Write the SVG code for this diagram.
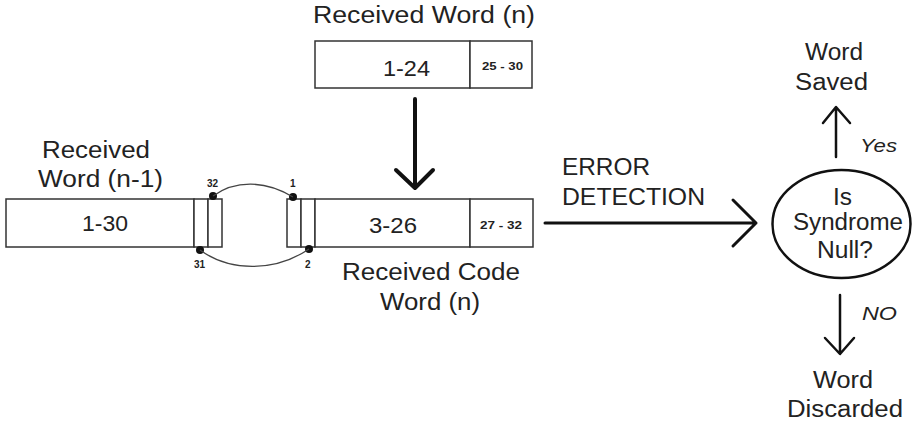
<svg xmlns="http://www.w3.org/2000/svg" width="912" height="433" viewBox="0 0 912 433">
<style>
.box{fill:#fff;stroke:#333;stroke-width:1.5}
.lbl{font-family:"Liberation Sans",Arial,sans-serif;fill:#222}
.big{font-size:23px}
.num{font-size:22px}
.tiny{font-size:10px;font-weight:bold}
.it{font-style:italic;font-size:18px}
.arr{fill:none;stroke:#111;stroke-linecap:round;stroke-linejoin:round}
.wire{fill:none;stroke:#444;stroke-width:1.3}
.dot{fill:#111}
</style>
<rect width="912" height="433" fill="#fff"/>

<g id="received-word-n">
  <text class="lbl big" x="313" y="23" font-size="24" textLength="222" lengthAdjust="spacingAndGlyphs">Received Word (n)</text>
  <rect class="box" x="315" y="41" width="155" height="47"/>
  <rect class="box" x="470" y="41" width="62" height="47"/>
  <text class="lbl num" x="383" y="76" textLength="47" lengthAdjust="spacingAndGlyphs">1-24</text>
  <text class="lbl tiny" x="482" y="70" font-size="9" textLength="41" lengthAdjust="spacingAndGlyphs">25 - 30</text>
</g>

<g id="received-word-n-1">
  <text class="lbl big" x="42" y="158" textLength="108" lengthAdjust="spacingAndGlyphs">Received</text>
  <text class="lbl big" x="38" y="187" textLength="125" lengthAdjust="spacingAndGlyphs">Word (n-1)</text>
  <rect class="box" x="6" y="199" width="188" height="48"/>
  <rect class="box" x="194" y="199" width="14" height="48"/>
  <rect class="box" x="208" y="199" width="14" height="48"/>
  <text class="lbl num" x="82" y="231" textLength="46" lengthAdjust="spacingAndGlyphs">1-30</text>
  <circle class="dot" cx="213" cy="196" r="4"/>
  <circle class="dot" cx="200" cy="250" r="4"/>
  <text class="lbl tiny" x="207" y="187">32</text>
  <text class="lbl tiny" x="194" y="268">31</text>
</g>

<g id="received-code-word-n">
  <rect class="box" x="287" y="199" width="14" height="48"/>
  <rect class="box" x="301" y="199" width="14" height="48"/>
  <rect class="box" x="315" y="199" width="155" height="48"/>
  <rect class="box" x="470" y="199" width="63" height="48"/>
  <text class="lbl num" x="369" y="233" textLength="48" lengthAdjust="spacingAndGlyphs">3-26</text>
  <text class="lbl tiny" x="480" y="229" textLength="42" lengthAdjust="spacingAndGlyphs">27 - 32</text>
  <circle class="dot" cx="293" cy="197" r="4"/>
  <circle class="dot" cx="309" cy="249" r="4"/>
  <text class="lbl tiny" x="290" y="187">1</text>
  <text class="lbl tiny" x="305" y="268">2</text>
  <text class="lbl big" x="342" y="280" textLength="178" lengthAdjust="spacingAndGlyphs">Received Code</text>
  <text class="lbl big" x="380" y="310" textLength="100" lengthAdjust="spacingAndGlyphs">Word (n)</text>
</g>

<g id="syndrome-check">
  <ellipse cx="841.5" cy="224" rx="69" ry="54" fill="#fff" stroke="#111" stroke-width="2.5"/>
  <text class="lbl big" x="833" y="205" textLength="19" lengthAdjust="spacingAndGlyphs">Is</text>
  <text class="lbl big" x="793" y="230" textLength="110" lengthAdjust="spacingAndGlyphs">Syndrome</text>
  <text class="lbl big" x="817" y="258" textLength="56" lengthAdjust="spacingAndGlyphs">Null?</text>
</g>

<g id="word-saved">
  <text class="lbl big" x="805" y="60" textLength="58" lengthAdjust="spacingAndGlyphs">Word</text>
  <text class="lbl big" x="795" y="90" textLength="73" lengthAdjust="spacingAndGlyphs">Saved</text>
</g>

<g id="word-discarded">
  <text class="lbl big" x="813" y="388" textLength="60" lengthAdjust="spacingAndGlyphs">Word</text>
  <text class="lbl big" x="787" y="417" textLength="116" lengthAdjust="spacingAndGlyphs">Discarded</text>
</g>

<g id="connectors">
  <path class="wire" d="M213 196 C235 180 265 180 293 197"/>
  <path class="wire" d="M200 250 C230 272 275 272 309 249"/>
  <path class="arr" stroke-width="4" d="M415 99 V187 M396 170 L415 188 L433 170"/>
  <path class="arr" stroke-width="3" d="M545 223 H756 M733 200 L756 223 L733 246"/>
  <text class="lbl big" x="562" y="175" textLength="88" lengthAdjust="spacingAndGlyphs">ERROR</text>
  <text class="lbl big" x="562" y="205" textLength="143" lengthAdjust="spacingAndGlyphs">DETECTION</text>
  <path class="arr" stroke-width="2.5" d="M836 157 V108 M823 123 L836 107 L850 123"/>
  <text class="lbl it" x="860" y="152" textLength="37" lengthAdjust="spacingAndGlyphs">Yes</text>
  <path class="arr" stroke-width="2.5" d="M840 295 V353 M825 338 L840 354 L854 338"/>
  <text class="lbl it" x="862" y="320" textLength="35" lengthAdjust="spacingAndGlyphs">NO</text>
</g>
</svg>
